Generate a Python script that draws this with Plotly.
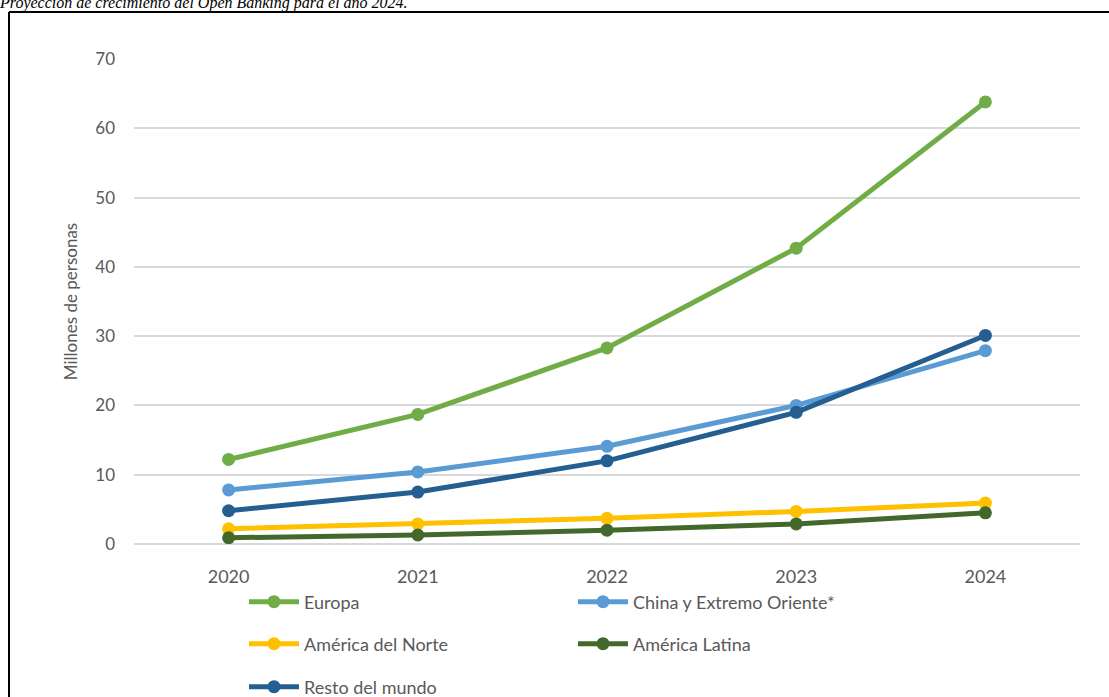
import plotly.graph_objects as go

years = ["2020", "2021", "2022", "2023", "2024"]
europa = [12.2, 18.7, 28.3, 42.7, 63.8]
china = [7.8, 10.4, 14.1, 20.0, 27.9]
norte = [2.2, 2.9, 3.7, 4.7, 5.9]
latina = [0.9, 1.3, 2.0, 2.9, 4.5]
resto = [4.8, 7.5, 12.0, 19.0, 30.1]

y_ticks = [0, 10, 20, 30, 40, 50, 60, 70]

W, H = 1109, 697
L, R, T, B = 134, 29, 59, 153
PW, PH = W - L - R, H - T - B


def px_x(p):
    return (p - L) / PW


def px_y(p):
    return (H - B - p) / PH


series = [
    ("Europa", europa, "#70AD47", "legend"),
    ("China y Extremo Oriente*", china, "#5B9BD5", "legend"),
    ("América del Norte", norte, "#FFC000", "legend2"),
    ("América Latina", latina, "#43682B", "legend2"),
    ("Resto del mundo", resto, "#255E91", "legend3"),
]

fig = go.Figure()
for name, vals, color, lg in series:
    fig.add_trace(go.Scatter(
        x=years, y=vals, name=name, mode="lines+markers",
        line=dict(color=color, width=5),
        marker=dict(color=color, size=13),
        legend=lg,
    ))

font_family = "Lato, 'Open Sans', sans-serif"
legend_common = dict(
    orientation="h", xanchor="left", yanchor="middle",
    font=dict(family=font_family, size=18, color="#595959"),
    itemwidth=50, entrywidth=264, entrywidthmode="pixels",
    bgcolor="rgba(0,0,0,0)", borderwidth=0, itemclick=False,
)
lx = px_x(244)

fig.update_layout(
    width=W, height=H,
    margin=dict(l=L, r=R, t=T, b=B, autoexpand=False),
    paper_bgcolor="white", plot_bgcolor="white",
    showlegend=True,
    legend=dict(x=lx, y=px_y(602), **legend_common),
    legend2=dict(x=lx, y=px_y(644), **legend_common),
    legend3=dict(x=lx, y=px_y(687), **legend_common),
    xaxis=dict(
        type="category", range=[-0.5, 4.5], showgrid=False,
        showline=False, zeroline=False, ticks="",
        tickfont=dict(family=font_family, size=18, color="#595959"),
        ticklabelstandoff=20,
    ),
    yaxis=dict(
        range=[0, 70], tickvals=y_ticks, showgrid=True,
        gridcolor="#D9D9D9", gridwidth=1.5, zeroline=True,
        zerolinecolor="#D9D9D9", zerolinewidth=1.5, showline=False, ticks="",
        tickfont=dict(family=font_family, size=17, color="#595959"),
        ticklabelstandoff=18,
        title=dict(text="Millones de personas", standoff=13,
                   font=dict(family=font_family, size=17, color="#595959")),
    ),
    annotations=[dict(
        text="<i>Proyección de crecimiento del Open Banking para el año 2024.</i>",
        xref="paper", yref="paper", x=px_x(-3), y=px_y(3),
        xanchor="left", yanchor="middle", showarrow=False,
        font=dict(family="Liberation Serif, serif", size=16, color="black"),
    )],
    shapes=[
        dict(type="line", xref="paper", yref="paper",
             x0=px_x(9), x1=px_x(9), y0=px_y(12), y1=px_y(720),
             line=dict(color="black", width=2)),
        dict(type="line", xref="paper", yref="paper",
             x0=px_x(9), x1=px_x(1120), y0=px_y(12), y1=px_y(12),
             line=dict(color="black", width=2)),
    ],
)

fig.write_html("out.html")
